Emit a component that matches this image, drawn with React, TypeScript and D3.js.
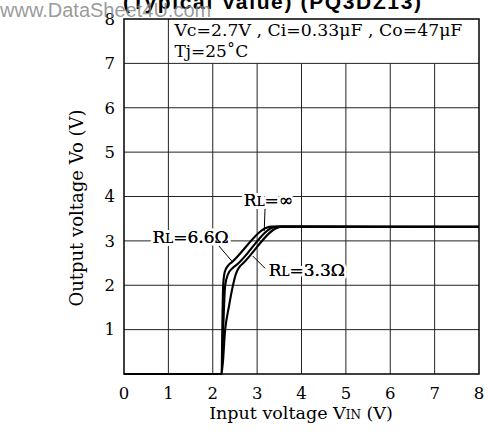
import * as d3 from 'd3';

// x ticks and y ticks
const xTicks = [0, 1, 2, 3, 4, 5, 6, 7, 8];
const yTicks = [1, 2, 3, 4, 5, 6, 7, 8];

// curves: [Vin, Vo]
const curveInf: [number, number][] = [
  [0, 0], [2.2, 0], [2.215, 1.0], [2.235, 2.0], [2.27, 2.3], [2.35, 2.45], [2.43, 2.52], [3.32, 3.32], [8, 3.32],
];
const curve66: [number, number][] = [
  [0, 0], [2.2, 0], [2.235, 1.0], [2.28, 2.0], [2.34, 2.24], [2.45, 2.39], [2.55, 2.47], [3.44, 3.32], [8, 3.32],
];
const curve33: [number, number][] = [
  [0, 0], [2.2, 0], [2.28, 1.0], [2.37, 1.55], [2.45, 1.97], [2.52, 2.25], [2.6, 2.41], [2.69, 2.5], [3.56, 3.32], [8, 3.32],
];
const series = [curveInf, curve66, curve33];

const labels = [
  { main: 'R', sub: 'L', rest: '=∞', x: 2.7, y: 3.92, lx1: 3.18, ly1: 3.78, lx2: 3.16, ly2: 3.22 },
  { main: 'R', sub: 'L', rest: '=6.6Ω', x: 0.64, y: 3.09, lx1: 2.1, ly1: 2.93, lx2: 2.45, ly2: 2.52 },
  { main: 'R', sub: 'L', rest: '=3.3Ω', x: 3.26, y: 2.34, lx1: 3.18, ly1: 2.38, lx2: 2.9, ly2: 2.66 },
];

export default function App() {
  const width = 488;
  const height = 442;
  const left = 124, right = 479, top = 19, bottom = 374;
  const x = d3.scaleLinear().domain([0, 8]).range([left, right]);
  const y = d3.scaleLinear().domain([0, 8]).range([bottom, top]);
  const line = d3.line<[number, number]>().x(d => x(d[0])).y(d => y(d[1])).curve(d3.curveMonotoneX);
  const serif = '"DejaVu Serif", serif';

  return (
    <svg width={width} height={height} style={{ position: 'absolute', left: 0, top: 0 }}>
      <rect width={width} height={height} fill="white" />
      {/* title, cut at top */}
      <text x={272} y={8.5} textAnchor="middle" fontFamily="Liberation Sans, Arial" fontWeight="bold" fontSize={21} textLength={298}>
        (Typical Value) (PQ3DZ13)
      </text>
      {/* grid */}
      {yTicks.filter(t => t < 8).map(t => (
        <line key={'h' + t} x1={left} x2={right} y1={y(t)} y2={y(t)} stroke="#222" strokeWidth={1} />
      ))}
      {xTicks.filter(t => t > 0 && t < 8).map(t => (
        <line key={'v' + t} x1={x(t)} x2={x(t)} y1={bottom} y2={t === 1 ? top : y(7)} stroke="#222" strokeWidth={1} />
      ))}
      <rect x={left} y={top} width={right - left} height={bottom - top} fill="none" stroke="#111" strokeWidth={1.6} />
      {/* conditions box text */}
      <text x={x(1) + 6} y={36} fontFamily={serif} fontSize={17} textLength={288} lengthAdjust="spacingAndGlyphs">
        Vc=2.7V , Ci=0.33μF , Co=47μF
      </text>
      <text x={x(1) + 6} y={57} fontFamily={serif} fontSize={17}>
        Tj=25˚C
      </text>
      {/* curves */}
      {series.map((s, i) => (
        <path key={i} d={line(s) ?? ''} fill="none" stroke="black" strokeWidth={2.1} strokeLinejoin="round" />
      ))}
      {/* labels */}
      {labels.map((l, i) => (
        <g key={'l' + i}>
          <line x1={x(l.lx1)} y1={y(l.ly1)} x2={x(l.lx2)} y2={y(l.ly2)} stroke="black" strokeWidth={1} />
          <text x={x(l.x)} y={y(l.y)} dy="0.35em" fontFamily={serif} fontSize={17} stroke="white" strokeWidth={6} paintOrder="stroke" strokeLinejoin="round">
            {l.main}<tspan fontSize={12}>{l.sub}</tspan>{l.rest}
          </text>
          <text x={x(l.x)} y={y(l.y)} dy="0.35em" fontFamily={serif} fontSize={17}>
            {l.main}<tspan fontSize={12}>{l.sub}</tspan>{l.rest}
          </text>
        </g>
      ))}
      {/* axis tick labels */}
      {xTicks.map(t => (
        <text key={'xt' + t} x={x(t)} y={399} textAnchor="middle" fontFamily={serif} fontSize={16.5}>{t}</text>
      ))}
      {yTicks.map(t => (
        <text key={'yt' + t} x={115} y={y(t)} dy="0.35em" textAnchor="end" fontFamily={serif} fontSize={16.5}>{t}</text>
      ))}
      <text x={301} y={419} textAnchor="middle" fontFamily={serif} fontSize={17.5}>
        Input voltage V<tspan fontSize={12}>IN</tspan> (V)
      </text>
      <text transform={`translate(83,208) rotate(-90)`} textAnchor="middle" fontFamily={serif} fontSize={18}>
        Output voltage Vo (V)
      </text>
      {/* watermark */}
      <text x={0} y={17} fontFamily="Liberation Sans, Arial" fontSize={20} fill="#888" fillOpacity={0.85}>
        www.DataSheet4U.com
      </text>
    </svg>
  );
}
